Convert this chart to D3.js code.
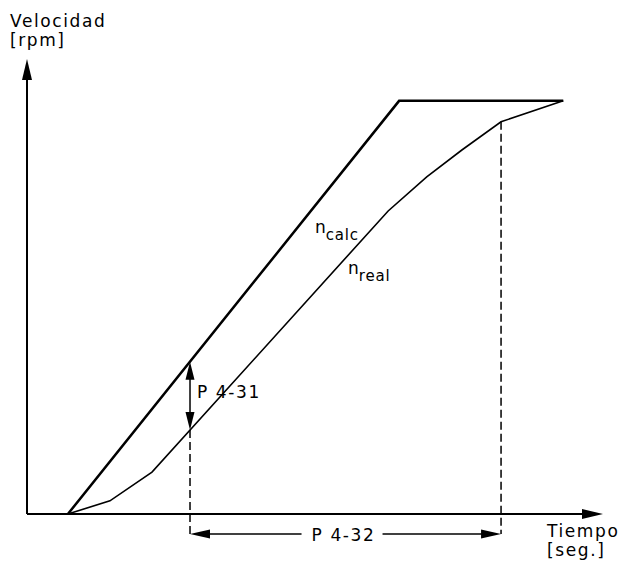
<!DOCTYPE html>
<html>
<head>
<meta charset="utf-8">
<script src="https://cdn.jsdelivr.net/npm/d3@7"></script>
<style>
  body { margin: 0; background: #fff; }
  text { font-family: "DejaVu Sans", Verdana, sans-serif; fill: #000; }
</style>
</head>
<body>
<svg width="623" height="561"></svg>
<script>
// time (x) and speed (y) in arbitrary 0..100 units
var calcTime  = [7.1, 64.6, 93.1];
var calcSpeed = [0, 90.8, 90.8];

var realTime  = [7.1, 14.4, 21.7, 62.7, 69.4, 75.5, 82.3, 93.1];
var realSpeed = [0, 2.9, 9.2, 66.6, 74.1, 80.0, 86.2, 90.8];

// P 4-31 is measured at t1, P 4-32 runs from t1 to t2
var markTimes = [28.3, 82.3];

var svg = d3.select("svg");

var x = d3.scaleLinear().domain([0, 100]).range([27, 603]),
    y = d3.scaleLinear().domain([0, 100]).range([514, 59]);

// linear lookup along a polyline
function valueAt(ts, vs, t) {
  for (var i = 1; i < ts.length; i++) {
    if (t <= ts[i]) {
      return vs[i - 1] + (vs[i] - vs[i - 1]) * (t - ts[i - 1]) / (ts[i] - ts[i - 1]);
    }
  }
  return vs[vs.length - 1];
}

// arrowhead: tip at (tx,ty), pointing in direction angle (radians)
function head(tx, ty, ang, len, half) {
  var bx = tx - len * Math.cos(ang), by = ty - len * Math.sin(ang);
  var px = -Math.sin(ang) * half, py = Math.cos(ang) * half;
  svg.append("path")
      .attr("d", "M" + tx + "," + ty + "L" + (bx + px) + "," + (by + py) + "L" + (bx - px) + "," + (by - py) + "Z")
      .attr("fill", "#000");
}

// axes
svg.append("line")
    .attr("x1", x(0)).attr("y1", y(0))
    .attr("x2", x(0)).attr("y2", y(100) + 10)
    .attr("stroke", "#000").attr("stroke-width", 2);
head(x(0), y(100), -Math.PI / 2, 21, 5);

svg.append("line")
    .attr("x1", x(0)).attr("y1", y(0))
    .attr("x2", x(100) - 10).attr("y2", y(0))
    .attr("stroke", "#000").attr("stroke-width", 2);
head(x(100), y(0), 0, 21, 5);

var line = d3.line()
    .x(function(d) { return x(d[0]); })
    .y(function(d) { return y(d[1]); });

svg.append("path")
    .datum(d3.zip(calcTime, calcSpeed))
    .attr("d", line)
    .attr("fill", "none")
    .attr("stroke", "#000")
    .attr("stroke-width", 2.5)
    .attr("stroke-linejoin", "miter");

svg.append("path")
    .datum(d3.zip(realTime, realSpeed))
    .attr("d", line)
    .attr("fill", "none")
    .attr("stroke", "#000")
    .attr("stroke-width", 1.6);

// dashed guides down to the P 4-32 dimension line
var dimY = 534;
markTimes.forEach(function(t) {
  svg.append("line")
      .attr("x1", x(t)).attr("x2", x(t))
      .attr("y1", y(valueAt(realTime, realSpeed, t)))
      .attr("y2", dimY)
      .attr("stroke", "#000")
      .attr("stroke-width", 1.5)
      .attr("stroke-dasharray", "8,4");
});

// P 4-31 vertical double arrow
var t1 = markTimes[0];
var yTop = y(valueAt(calcTime, calcSpeed, t1)),
    yBot = y(valueAt(realTime, realSpeed, t1));
svg.append("line")
    .attr("x1", x(t1)).attr("x2", x(t1))
    .attr("y1", yTop + 8).attr("y2", yBot - 8)
    .attr("stroke", "#000").attr("stroke-width", 1.5);
head(x(t1), yTop, -Math.PI / 2, 18, 4.5);
head(x(t1), yBot, Math.PI / 2, 18, 4.5);

svg.append("text")
    .attr("x", x(t1) + 7).attr("y", 398)
    .style("font-size", "17px")
    .style("letter-spacing", "1.6px")
    .text("P 4-31");

// P 4-32 horizontal double arrow with label in the gap
var xa = x(markTimes[0]), xb = x(markTimes[1]), xm = (xa + xb) / 2;
svg.append("line")
    .attr("x1", xa + 10).attr("x2", xm - 44)
    .attr("y1", dimY).attr("y2", dimY)
    .attr("stroke", "#000").attr("stroke-width", 1.5);
svg.append("line")
    .attr("x1", xm + 37).attr("x2", xb - 10)
    .attr("y1", dimY).attr("y2", dimY)
    .attr("stroke", "#000").attr("stroke-width", 1.5);
head(xa, dimY, Math.PI, 20, 4.5);
head(xb, dimY, 0, 20, 4.5);
svg.append("text")
    .attr("x", xm - 2).attr("y", dimY + 7)
    .attr("text-anchor", "middle")
    .style("font-size", "17px")
    .style("letter-spacing", "1.6px")
    .text("P 4-32");

// axis titles
function twoLines(tx, ty, a, b) {
  var t = svg.append("text")
      .attr("x", tx).attr("y", ty)
      .style("font-size", "17px")
      .style("letter-spacing", "1.6px");
  t.append("tspan").attr("x", tx).text(a);
  t.append("tspan").attr("x", tx).attr("dy", 19).text(b);
}
twoLines(10, 27, "Velocidad", "[rpm]");
twoLines(547, 537, "Tiempo", "[seg.]");

// curve labels with subscripts
function subLabel(tx, ty, main, sub) {
  var t = svg.append("text")
      .attr("x", tx).attr("y", ty)
      .style("font-size", "17px");
  t.append("tspan").text(main);
  t.append("tspan").attr("dy", 7)
      .style("font-size", "15px")
      .style("letter-spacing", "0.8px")
      .text(sub);
}
subLabel(315, 233, "n", "calc");
subLabel(348, 274, "n", "real");
</script>
</body>
</html>
